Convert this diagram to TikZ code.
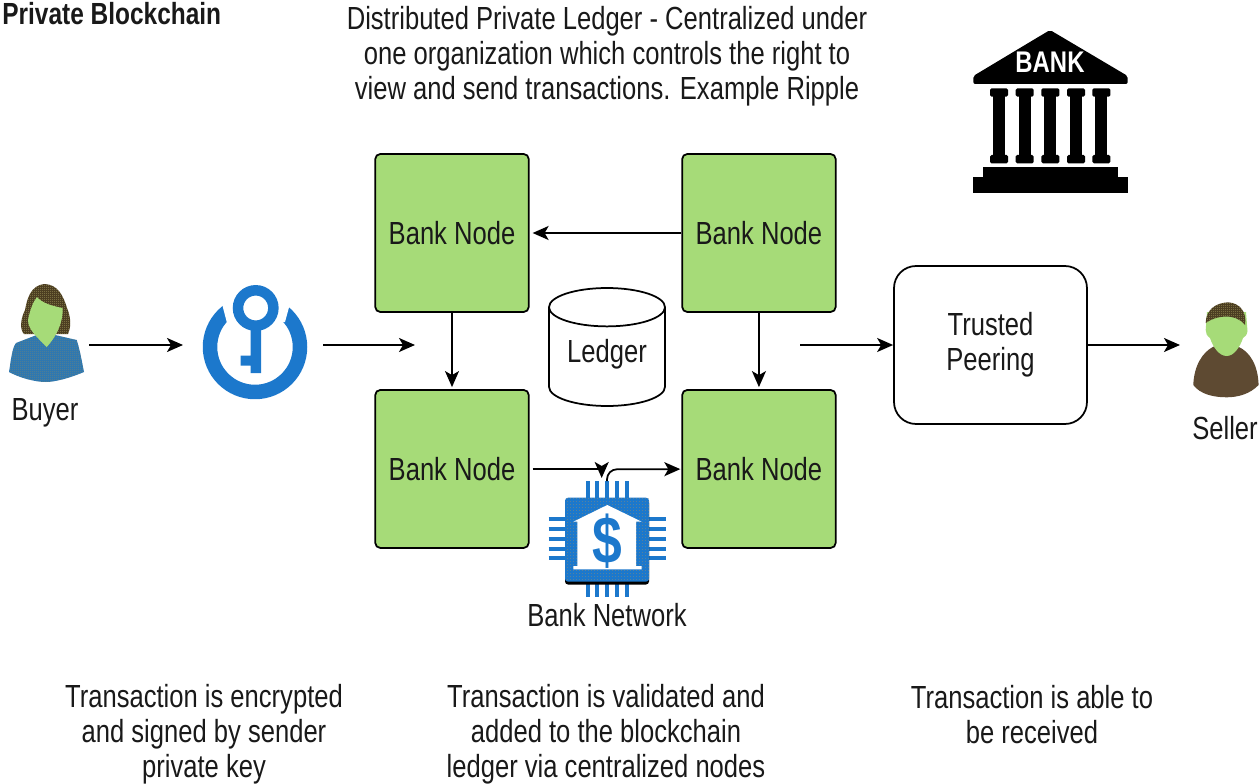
\documentclass[tikz,border=0pt]{standalone}
\usepackage{fontspec}
\setmainfont[FakeStretch=0.8]{Liberation Sans}
\usetikzlibrary{shapes.geometric, arrows.meta, patterns}
\definecolor{nodegreen}{HTML}{A6DB78}
\definecolor{iconblue}{HTML}{1C78CC}
\definecolor{hairbrown}{HTML}{4C3E22}
\definecolor{hairdot}{HTML}{B5AE68}
\definecolor{shirtblue}{HTML}{2F78B0}
\definecolor{shirtgrey}{HTML}{7F8470}
\definecolor{chipdot}{HTML}{A98F5F}
\definecolor{coatbrown}{HTML}{5E4A32}
\pgfdeclarepatternformonly{dither}{\pgfpointorigin}{\pgfqpoint{1.14pt}{1.14pt}}{\pgfqpoint{1.14pt}{1.14pt}}{%
  \pgfpathrectangle{\pgfpointorigin}{\pgfqpoint{0.57pt}{0.57pt}}\pgfusepath{fill}}
\pgfdeclarepatternformonly{chipdither}{\pgfpointorigin}{\pgfqpoint{1.71pt}{1.71pt}}{\pgfqpoint{1.71pt}{1.71pt}}{%
  \pgfpathrectangle{\pgfpointorigin}{\pgfqpoint{0.4pt}{0.4pt}}\pgfusepath{fill}}
\tikzstyle{banknode} =
[rectangle, rounded corners = 0.1cm, minimum width = 3.07cm, minimum height = 3.16cm,
text centered, line width = 0.035cm, draw=black, fill=nodegreen]
\tikzstyle{peering} =
[rectangle, rounded corners = 0.44cm, minimum width = 3.86cm, minimum height = 3.16cm,
align = center, line width = 0.035cm, draw=black, fill=white]
\tikzstyle{ledger} =
[cylinder, shape border rotate = 90, aspect = 0.42, minimum width = 2.32cm, minimum height = 2.36cm,
anchor = shape center, line width = 0.035cm, draw=black, fill=white]
\tikzstyle{caption} = [align = center, inner sep = 0pt]
\tikzstyle{line} = [draw, line width = 0.035cm, -{Stealth[length=0.32cm, width=0.28cm, inset=0.08cm]}]
\tikzstyle{pin} = [draw=iconblue, line width = 0.08cm]
\begin{document}
\begin{tikzpicture}[x=0.02cm, y=-0.02cm, node distance = 6.14cm, auto,
  every node/.append style={font=\fontsize{18.2}{19.9}\selectfont, text=black!90}]
  \useasboundingbox (0,0) rectangle (1259,784);
  % texts
  \node [caption, anchor=west, font=\fontsize{17.4}{19.9}\selectfont\bfseries] (title) at (2,14) {Private Blockchain};
  \node [caption] (heading) at (607,56)
   {Distributed Private Ledger - Centralized under\\ one organization which controls the right to\\ view and send transactions. Example Ripple};
  \node [caption] (sender) at (204,734)
   {Transaction is encrypted\\ and signed by sender\\ private key};
  \node [caption] (validated) at (606,734)
   {Transaction is validated and\\ added to the blockchain\\ ledger via centralized nodes};
  \node [caption] (received) at (1032,714.5)
   {Transaction is able to\\ be received};
  % bank nodes
  \node [banknode] (banka) at (452,233) {Bank Node};
  \node [banknode, right of=banka] (bankb) {Bank Node};
  \node [banknode, below of=banka, node distance=4.72cm] (bankc) {Bank Node};
  \node [banknode, right of=bankc] (bankd) {Bank Node};
  \node [ledger] (ledger) at (607,347) {\raisebox{0.4cm}{Ledger}};
  \node [peering] (trusted) at (990.5,345) {Trusted\\ Peering};
  % buyer
  \path [fill=hairbrown] (45,284) .. controls (30,285) and (27,300) .. (25,310)
    .. controls (20,320) and (20,330) .. (24,334) -- (68,334)
    .. controls (72,325) and (70,315) .. (67,308) .. controls (63,295) and (58,285) .. (45,284) -- cycle;
  \path [pattern=dither, pattern color=hairdot] (45,284) .. controls (30,285) and (27,300) .. (25,310)
    .. controls (20,320) and (20,330) .. (24,334) -- (68,334)
    .. controls (72,325) and (70,315) .. (67,308) .. controls (63,295) and (58,285) .. (45,284) -- cycle;
  \path [fill=shirtblue] (9,372) .. controls (11,360) and (12,348) .. (16,343) -- (36.7,335) -- (55,335)
    -- (76.7,340) .. controls (80,350) and (82,362) .. (84,372)
    .. controls (70,378) and (55,382) .. (46,382) .. controls (35,382) and (20,378) .. (9,372) -- cycle;
  \path [pattern=dither, pattern color=shirtgrey] (9,372) .. controls (11,360) and (12,348) .. (16,343) -- (36.7,335) -- (55,335)
    -- (76.7,340) .. controls (80,350) and (82,362) .. (84,372)
    .. controls (70,378) and (55,382) .. (46,382) .. controls (35,382) and (20,378) .. (9,372) -- cycle;
  \fill [nodegreen] (37,297) .. controls (42,303) and (52,306) .. (62.7,308)
    .. controls (63,325) and (55,338) .. (46.7,347) .. controls (38,338) and (28,330) .. (28,320)
    .. controls (30,310) and (33,302) .. (37,297) -- cycle;
  \node [caption] (buyerlabel) at (45,413) {Buyer};
  \coordinate (buyerout) at (89,345);
  % key
  \draw [iconblue, line width=0.29cm] (255,347) circle [radius=0.9cm];
  \fill [white] (221,300) -- (227,323) -- (285,322) -- (291,300) -- (255,280) -- cycle;
  \draw [iconblue, line width=0.21cm] (255.7,308) circle [radius=0.354cm];
  \fill [iconblue] (250.5,328) -- (261,328) -- (261,373) -- (250.5,373) -- (250.5,365.7)
    -- (240.7,365.7) -- (240.7,355.7) -- (250.5,355.7) -- cycle;
  \coordinate (keyin) at (183,345);
  \coordinate (keyout) at (323,345);
  \coordinate (groupin) at (415,345);
  % chip
  \foreach \pinx in {587.7,597.3,607.3,617.3,626.7} {
    \draw [pin] (\pinx,481) -- (\pinx,498);
    \draw [pin] (\pinx,582) -- (\pinx,597);
  }
  \foreach \piny in {519,529,539,548.7,558.3} {
    \draw [pin] (548.7,\piny) -- (565,\piny);
    \draw [pin] (649,\piny) -- (666,\piny);
  }
  \fill [black, rounded corners=0.06cm] (565,500) rectangle (649,584.5);
  \fill [iconblue, rounded corners=0.06cm] (565,497.7) rectangle (649,581.7);
  \path [pattern=chipdither, pattern color=chipdot] (565,497.7) rectangle (649,581.7);
  \fill [white] (607.3,505) -- (641.7,521.7) -- (636,521.7) -- (636,566) -- (641.7,566) -- (641.7,569.3)
    -- (573.3,569.3) -- (573.3,566) -- (577.3,566) -- (577.3,521.7) -- (573.3,521.7) -- cycle;
  \node [caption, font=\fontsize{38}{38}\selectfont\bfseries, text=iconblue] (dollar) at (607,541) {\$};
  \node [caption] (network) at (607,615) {Bank Network};
  \coordinate (chipin) at (601.7,478);
  \coordinate (chipout) at (607,481);
  \coordinate (chipturn) at (607,469.3);
  % seller
  \fill [coatbrown] (1193.3,385) .. controls (1194,365) and (1203,352) .. (1213.3,346.7) -- (1238.3,346.7)
    .. controls (1250,352) and (1258,365) .. (1258.6,385)
    .. controls (1250,394) and (1238,397.3) .. (1226.7,397.3) .. controls (1213,397.3) and (1200,394) .. (1193.3,385) -- cycle;
  \fill [nodegreen] (1207,312) -- (1246,312) -- (1247.5,331) .. controls (1247,335) and (1245,337) .. (1243,338)
    .. controls (1240,347) and (1234,356) .. (1226.7,356) .. controls (1219,356) and (1213,347) .. (1210,338)
    .. controls (1207,336) and (1205.5,333) .. (1205.7,330) -- cycle;
  \path [fill=hairbrown] (1228,302.3) .. controls (1215,303) and (1206,310) .. (1205.7,323)
    .. controls (1215,316) and (1235,312) .. (1245,325) .. controls (1247,312) and (1240,303) .. (1228,302.3) -- cycle;
  \path [pattern=dither, pattern color=hairdot] (1228,302.3) .. controls (1215,303) and (1206,310) .. (1205.7,323)
    .. controls (1215,316) and (1235,312) .. (1245,325) .. controls (1247,312) and (1240,303) .. (1228,302.3) -- cycle;
  \node [caption] (sellerlabel) at (1225,428) {Seller};
  \coordinate (sellerin) at (1180,345);
  \coordinate (peerin) at (800,345);
  % bank building
  \fill [black, rounded corners=0.04cm] (1050,30) -- (1127.7,76) -- (1127.7,84) -- (973.3,84) -- (973.3,76) -- cycle;
  \node [caption, font=\fontsize{17}{17}\selectfont\bfseries, text=white] (banklabel) at (1050,62.5) {BANK};
  \foreach \colx in {999,1024.7,1050.3,1076,1101.3} {
    \fill [black, rounded corners=0.03cm] (\colx-9,88.3) rectangle (\colx+9,96.7);
    \fill [black] (\colx-6,94) rectangle (\colx+6,157);
    \fill [black, rounded corners=0.03cm] (\colx-9,155) rectangle (\colx+9,163.3);
  }
  \fill [black] (982.7,166.7) rectangle (1118.3,176.7);
  \fill [black] (973.3,176.7) rectangle (1127.7,192.7);
  % edges
  \path [line] (buyerout) -- (keyin);
  \path [line] (keyout) -- (groupin);
  \path [line, shorten >=0.06cm] (bankb) -- (banka);
  \path [line, shorten >=0.04cm] (banka) -- (bankc);
  \path [line, shorten >=0.04cm] (bankb) -- (bankd);
  \path [line, shorten <=0.06cm] (bankc) -| (chipin);
  \path [line, rounded corners=0.2cm, shorten >=0.02cm] (chipout) -- (chipturn) -- (bankd);
  \path [line] (peerin) -- (trusted);
  \path [line] (trusted) -- (sellerin);
\end{tikzpicture}
\end{document}
